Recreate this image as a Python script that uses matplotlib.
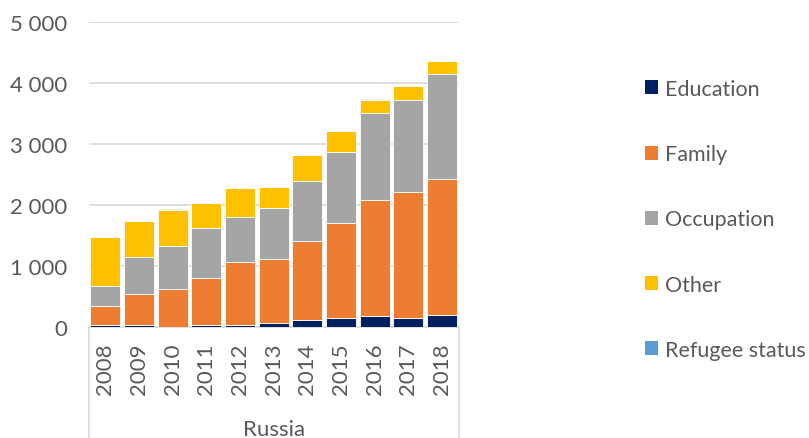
import matplotlib
matplotlib.use("Agg")
import matplotlib.pyplot as plt
from matplotlib.lines import Line2D
from matplotlib.patches import Patch
import numpy as np

plt.rcParams['font.family'] = ['Lato', 'DejaVu Sans']

years = ["2008", "2009", "2010", "2011", "2012", "2013", "2014", "2015", "2016", "2017", "2018"]
education = [35, 30, 10, 35, 45, 70, 125, 160, 190, 160, 195]
family = [320, 510, 610, 770, 1020, 1045, 1285, 1545, 1905, 2055, 2240]
occupation = [330, 620, 720, 815, 750, 845, 990, 1165, 1410, 1510, 1710]
other = [800, 580, 585, 415, 470, 335, 425, 345, 225, 230, 220]
refugee = [0, 0, 10, 10, 0, 0, 0, 0, 15, 0, 0]
group_label = "Russia"

series = [
    ("Education", education, "#002060"),
    ("Family", family, "#ED7D31"),
    ("Occupation", occupation, "#A5A5A5"),
    ("Other", other, "#FFC000"),
    ("Refugee status", refugee, "#5B9BD5"),
]

W, H = 809, 439
FS = 16
fig = plt.figure(figsize=(W / 100, H / 100), dpi=100)
ax = fig.add_axes([88.5 / W, 1 - 328.3 / H, (459 - 88.5) / W, (328.3 - 23.3) / H])

x = np.arange(len(years))
bottom = np.zeros(len(years))
for name, vals, color in series:
    v = np.array(vals, dtype=float)
    ax.bar(x, v, bottom=bottom, width=0.89, color=color, edgecolor="white",
           linewidth=0.6, label=name, zorder=3)
    bottom += v

ax.set_xlim(-0.5, len(years) - 0.5)
ax.set_ylim(0, 5000)
ax.set_yticks(range(0, 5001, 1000))
ax.set_yticklabels([f"{v:,}".replace(",", " ") for v in range(0, 5001, 1000)])
ax.yaxis.grid(True, color="#D9D9D9", linewidth=1.2, zorder=0)
ax.set_axisbelow(True)
for s in ["top", "right", "left"]:
    ax.spines[s].set_visible(False)
ax.spines["bottom"].set_color("#D9D9D9")
ax.spines["bottom"].set_linewidth(1.2)
ax.tick_params(axis="y", length=0, pad=15, labelsize=FS, labelcolor="#595959")
ax.tick_params(axis="x", length=0, pad=11, labelsize=FS, labelcolor="#595959")
ax.set_xticks(x)
ax.set_xticklabels(years, rotation=90)

# multi-level category box lines
for xa in (0.0, 1.0):
    ax.add_line(Line2D([xa, xa], [0, -111 / 305], transform=ax.transAxes,
                       color="#D9D9D9", linewidth=1.2, clip_on=False))
ax.text(0.5, -102 / 305, group_label, transform=ax.transAxes, ha="center",
        va="center", fontsize=FS, color="#595959")

# legend
handles = [Patch(facecolor=c, edgecolor="none") for _, _, c in series]
labels = [n for n, _, _ in series]
leg = fig.legend(handles, labels, loc="upper left", bbox_to_anchor=(645 / W, 1 - 80 / H),
                 frameon=False, fontsize=15.5, labelcolor="#595959",
                 handlelength=0.62, handleheight=0.62, handletextpad=0.3,
                 labelspacing=2.1, borderpad=0, borderaxespad=0)

fig.savefig("out.png", dpi=100)
